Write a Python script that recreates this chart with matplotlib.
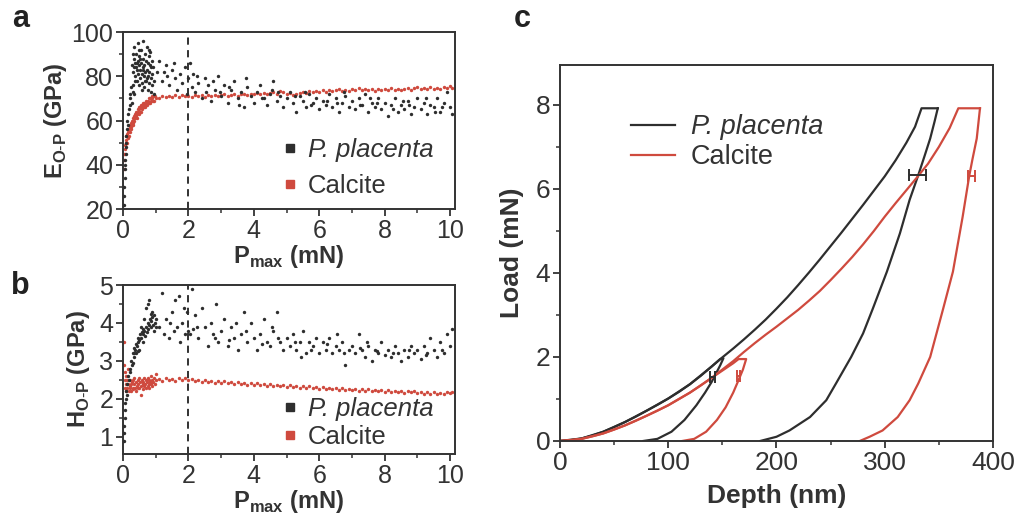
import matplotlib
matplotlib.use("Agg")
import matplotlib.pyplot as plt
from matplotlib.lines import Line2D
from matplotlib.ticker import MultipleLocator

plt.rcParams['font.family'] = ['Liberation Sans', 'DejaVu Sans']
plt.rcParams['mathtext.fontset'] = 'custom'
plt.rcParams['mathtext.rm'] = 'Liberation Sans'
plt.rcParams['mathtext.bf'] = 'Liberation Sans:bold'

BLACK = '#2e2e2e'
RED = '#cf4a3e'

# ---------------- panel a : modulus vs Pmax ----------------
a_pp = [(0.02,22),(0.03,26),(0.04,30),(0.05,34),(0.05,38),(0.06,40),(0.07,42),(0.08,45),(0.08,48),
        (0.1,50),(0.1,53),(0.12,56),(0.13,60),(0.15,58),(0.15,63),(0.17,65),(0.2,67),(0.2,70),(0.22,72),
        (0.25,75),(0.27,68),(0.3,73),(0.32,76),(0.35,72),
        (0.28,85),(0.3,90),(0.32,82),(0.33,88),(0.35,93),(0.36,80),(0.38,86),(0.4,84),(0.4,90),(0.42,78),
        (0.43,83),(0.45,87),(0.45,95),(0.47,81),(0.48,76),(0.5,85),(0.5,89),(0.52,79),(0.53,83),(0.55,92),
        (0.55,86),(0.57,77),(0.58,81),(0.6,84),(0.6,88),(0.62,96),(0.63,80),(0.65,75),(0.65,85),(0.67,82),
        (0.68,90),(0.7,78),(0.7,87),(0.72,83),(0.73,93),(0.75,80),(0.75,86),(0.77,74),(0.78,89),(0.8,82),
        (0.8,77),(0.82,85),(0.83,91),(0.85,79),(0.85,84),(0.87,73),(0.88,87),(0.9,81),(0.9,76),(0.92,84),
        (0.95,78),(0.95,72),(0.38,78),(0.58,74),(0.68,78),(0.48,92),(0.42,86),(0.62,83),(0.72,79),(0.52,88),
        (0.35,84),(0.8,92),
        (1.05,82),(1.1,87),(1.2,78),(1.3,85),(1.35,80),(1.4,76),(1.5,83),(1.6,79),(1.65,74),(1.75,81),
        (1.8,77),(1.9,84),(1.95,72),(2.0,79),(2.05,86),(2.1,75),(2.15,81),(2.2,73),(2.3,77),(2.4,70),
        (2.5,79),(2.55,73),(2.6,76),(2.7,69),(2.8,74),(2.9,80),(3.0,71),(3.1,76),(3.2,68),(3.3,74),
        (3.4,78),(3.5,70),(3.6,73),(3.7,66),(3.8,75),(3.9,71),(4.0,68),(4.1,73),(4.2,76),(4.3,70),
        (4.4,67),(4.5,72),(4.6,78),(4.7,69),(4.8,71),(4.9,66),(5.0,70),(5.1,73),(5.2,68),(5.3,64),
        (5.4,71),(5.5,69),(5.6,66),(5.7,72),(5.8,68),(5.9,70),(6.0,65),(6.1,69),(6.2,67),(6.3,72),
        (6.4,66),(6.5,70),(6.6,64),(6.7,68),(6.8,71),(6.9,66),(7.0,69),(7.1,65),(7.2,70),(7.3,67),
        (7.4,72),(7.5,64),(7.6,68),(7.7,66),(7.8,70),(7.9,65),(8.0,68),(8.1,62),(8.2,67),(8.3,70),
        (8.4,64),(8.5,67),(8.6,65),(8.7,69),(8.8,63),(8.9,66),(9.0,70),(9.1,65),(9.2,68),(9.3,63),
        (9.4,67),(9.5,66),(9.6,70),(9.7,64),(9.8,68),(9.9,73),(10.0,66),(10.05,63),
        (2.25,80),(2.75,78),(3.25,75),(3.75,79),(4.25,70),(4.75,73),(5.25,71),(5.75,67),(6.25,69),
        (6.75,73),(7.25,67),(7.75,68),(8.25,65),(8.75,67),(9.25,70),(9.75,66),(4.55,74),(5.55,73),
        (6.55,68),(7.55,70),(8.55,69),(9.55,64),(3.55,67),(2.95,73),(1.55,86),(1.25,82)]

a_ca = [(0.02,38),(0.03,42),(0.04,45),(0.05,47),(0.06,49),(0.08,50),(0.1,51),(0.1,53),(0.12,54),
        (0.14,52),(0.15,55),(0.17,56),(0.2,55),(0.2,57),(0.22,58),(0.25,57),(0.25,59),(0.28,60),(0.3,58),
        (0.3,61),(0.33,61),(0.35,60),(0.35,62),(0.38,63),(0.4,62),(0.4,64),(0.43,63),(0.45,65),(0.47,64),
        (0.5,65),(0.5,66),(0.53,66),(0.55,64),(0.55,67),(0.58,66),(0.6,68),(0.62,67),(0.65,68),(0.68,67),
        (0.7,69),(0.72,68),(0.75,69),(0.78,70),(0.8,68),(0.82,70),(0.85,69),(0.88,71),(0.9,70),(0.93,71),
        (0.95,69),(1.0,70),(0.07,45),(0.13,50),(0.18,53),(0.23,56),(0.27,58),(0.32,59),(0.37,61),(0.42,61),
        (0.48,63),(0.52,64),(0.57,65),(0.63,66),(0.67,66),(0.73,67),(0.77,68),(0.83,68),(0.87,70),(0.92,69),
        (0.97,71),
        (1.1,70.2),(1.2,71.0),(1.3,70.5),(1.4,71.2),(1.5,70.6),(1.6,71.4),(1.7,70.8),(1.8,71.5),(1.9,70.9),
        (2.0,71.3),(2.1,70.7),(2.2,71.6),(2.3,71.0),(2.4,71.4),(2.5,70.8),(2.6,71.5),(2.7,71.1),(2.8,71.7),
        (2.9,71.0),(3.0,71.4),(3.1,71.9),(3.2,71.2),(3.3,71.6),(3.4,72.0),(3.5,71.3),(3.6,71.8),(3.7,72.1),
        (3.8,71.5),(3.9,72.2),(4.0,71.8),(4.1,72.4),(4.2,71.9),(4.3,72.6),(4.4,72.0),(4.5,72.4),(4.6,72.9),
        (4.7,72.2),(4.8,73.5),(4.9,72.8),(5.0,71.9),(5.1,72.3),(5.2,71.6),(5.3,72.0),(5.4,72.5),(5.5,73.1),
        (5.6,72.6),(5.7,73.3),(5.8,72.8),(5.9,73.5),(6.0,73.0),(6.1,73.6),(6.2,73.1),(6.3,73.8),(6.4,73.2),
        (6.5,73.7),(6.6,74.3),(6.7,73.5),(6.8,74.0),(6.9,73.4),(7.0,74.2),(7.1,73.6),(7.2,74.5),(7.3,73.9),
        (7.4,74.4),(7.5,73.7),(7.6,74.3),(7.7,73.5),(7.8,74.1),(7.9,73.6),(8.0,74.2),(8.1,73.8),(8.2,74.6),
        (8.3,73.9),(8.4,74.3),(8.5,73.6),(8.6,74.1),(8.7,74.7),(8.8,74.0),(8.9,74.5),(9.0,75.2),(9.1,74.3),
        (9.2,74.8),(9.3,74.1),(9.4,75.0),(9.5,74.4),(9.6,74.9),(9.7,74.2),(9.8,75.3),(9.9,74.6),(10.0,75.8),
        (10.05,74.8)]

# ---------------- panel b : hardness vs Pmax ----------------
b_pp = [(0.02,0.9),(0.03,1.1),(0.04,1.3),(0.05,1.5),(0.06,1.7),(0.07,1.9),(0.08,2.0),(0.1,2.2),(0.12,2.4),
        (0.12,2.1),(0.15,2.6),(0.18,2.5),(0.2,2.8),(0.22,2.7),(0.25,3.0),(0.27,2.9),(0.3,3.2),(0.3,2.95),
        (0.33,3.2),(0.35,3.35),(0.38,3.3),(0.4,3.45),(0.42,3.4),(0.45,3.5),(0.47,3.6),(0.5,3.55),(0.52,3.7),
        (0.55,3.6),(0.57,3.75),(0.6,3.7),(0.62,3.85),(0.65,3.8),(0.67,3.65),(0.7,3.9),(0.72,3.75),(0.75,4.0),
        (0.77,3.85),(0.8,3.95),(0.82,4.1),(0.85,3.9),(0.87,4.05),(0.9,4.15),(0.92,3.95),(0.95,4.2),(0.97,4.0),
        (1.0,4.1),(0.75,4.5),(0.8,4.6),(0.7,4.4),(0.9,4.3),(0.6,3.5),(0.65,4.1),(0.85,4.25),(0.5,3.3),
        (0.55,3.9),(0.4,3.2),(0.45,3.25),(0.95,3.8),(1.0,3.9),(0.35,3.1),
        (1.1,3.9),(1.2,4.8),(1.25,3.7),(1.3,4.1),(1.4,3.6),(1.5,4.3),(1.55,3.8),(1.6,4.6),(1.7,4.7),
        (1.75,3.5),(1.8,4.0),(1.9,3.7),(1.95,4.3),(2.0,3.8),(2.05,3.7),(2.1,4.9),(2.15,3.85),(2.2,4.2),
        (2.3,3.6),(2.4,4.4),(2.5,3.9),(2.6,3.4),(2.7,4.0),(2.8,3.6),(2.85,4.5),(2.9,3.5),(3.0,3.8),
        (3.1,4.1),(3.2,3.4),(3.3,3.9),(3.4,3.6),(3.5,3.3),(3.6,3.7),(3.7,4.3),(3.8,3.5),(3.9,4.0),
        (4.0,3.6),(4.1,3.3),(4.2,3.7),(4.3,4.1),(4.4,3.5),(4.5,3.4),(4.6,3.8),(4.7,4.3),(4.8,3.5),
        (4.9,3.3),(5.0,3.6),(5.1,3.4),(5.2,3.7),(5.3,3.3),(5.4,3.5),(5.5,3.8),(5.6,3.2),(5.7,3.5),
        (5.8,3.4),(5.9,3.6),(6.0,3.2),(6.1,3.5),(6.2,3.3),(6.3,3.6),(6.4,3.2),(6.5,3.4),(6.6,3.3),
        (6.7,3.5),(6.8,2.9),(6.9,3.3),(7.0,3.4),(7.1,3.2),(7.2,3.7),(7.3,3.3),(7.4,3.1),(7.5,3.4),
        (7.6,3.0),(7.7,3.3),(7.8,3.2),(7.9,3.5),(8.0,3.15),(8.1,3.3),(8.2,3.1),(8.3,3.4),(8.4,3.2),
        (8.5,3.0),(8.6,3.3),(8.7,3.1),(8.8,3.4),(8.9,3.2),(9.0,3.3),(9.1,3.05),(9.2,3.4),(9.3,3.2),
        (9.4,3.6),(9.5,3.3),(9.6,3.1),(9.7,3.5),(9.8,3.2),(9.9,3.7),(10.0,3.4),(10.05,3.85),
        (2.25,3.9),(2.75,3.7),(3.25,3.55),(3.75,3.8),(4.25,3.45),(4.75,3.6),(5.25,3.5),(5.75,3.3),
        (6.25,3.45),(6.75,3.2),(7.25,3.35),(7.75,3.25),(8.25,3.2),(8.75,3.3),(9.25,3.15),(9.75,3.3),
        (1.45,4.0),(1.65,3.9),(1.85,4.4),(3.45,4.0),(4.55,3.9),(5.45,3.1),(6.55,3.7),(7.45,3.5)]

b_ca = [(0.02,3.5),(0.03,2.9),(0.05,2.7),(0.05,2.5),(0.07,2.3),(0.08,2.6),(0.1,2.4),(0.1,2.2),(0.12,2.5),
        (0.13,2.3),(0.15,2.8),(0.15,2.4),(0.17,2.2),(0.2,2.35),(0.2,2.5),(0.22,2.3),(0.25,2.4),(0.25,2.2),
        (0.27,2.45),(0.3,2.3),(0.3,2.5),(0.32,2.25),(0.35,2.4),(0.35,2.55),(0.38,2.3),(0.4,2.45),(0.4,2.2),
        (0.42,2.35),(0.45,2.5),(0.45,2.3),(0.47,2.4),(0.5,2.3),(0.5,2.55),(0.52,2.45),(0.55,2.35),(0.55,2.1),
        (0.57,2.5),(0.6,2.4),(0.6,2.25),(0.62,2.45),(0.65,2.35),(0.65,2.55),(0.68,2.4),(0.7,2.3),(0.7,2.5),
        (0.72,2.45),(0.75,2.35),(0.75,2.55),(0.78,2.4),(0.8,2.5),(0.8,2.3),(0.82,2.45),(0.85,2.4),(0.85,2.6),
        (0.88,2.45),(0.9,2.5),(0.9,2.35),(0.92,2.45),(0.95,2.55),(0.97,2.4),(1.0,2.5),(1.0,2.65),
        (1.1,2.52),(1.2,2.47),(1.3,2.55),(1.4,2.49),(1.5,2.53),(1.6,2.46),(1.7,2.54),(1.8,2.50),(1.9,2.56),
        (2.0,2.49),(2.1,2.53),(2.2,2.47),(2.3,2.51),(2.4,2.45),(2.5,2.49),(2.6,2.44),(2.7,2.48),(2.8,2.43),
        (2.9,2.47),(3.0,2.42),(3.1,2.46),(3.2,2.41),(3.3,2.45),(3.4,2.40),(3.5,2.44),(3.6,2.39),(3.7,2.43),
        (3.8,2.38),(3.9,2.42),(4.0,2.37),(4.1,2.41),(4.2,2.36),(4.3,2.40),(4.4,2.35),(4.5,2.39),(4.6,2.34),
        (4.7,2.38),(4.8,2.33),(4.9,2.37),(5.0,2.32),(5.1,2.36),(5.2,2.31),(5.3,2.35),(5.4,2.30),(5.5,2.34),
        (5.6,2.29),(5.7,2.33),(5.8,2.28),(5.9,2.32),(6.0,2.27),(6.1,2.31),(6.2,2.26),(6.3,2.30),(6.4,2.25),
        (6.5,2.29),(6.6,2.24),(6.7,2.28),(6.8,2.23),(6.9,2.27),(7.0,2.23),(7.1,2.26),(7.2,2.22),(7.3,2.26),
        (7.4,2.21),(7.5,2.25),(7.6,2.21),(7.7,2.24),(7.8,2.20),(7.9,2.24),(8.0,2.19),(8.1,2.23),(8.2,2.19),
        (8.3,2.22),(8.4,2.18),(8.5,2.22),(8.6,2.16),(8.7,2.21),(8.8,2.17),(8.9,2.20),(9.0,2.15),(9.1,2.19),
        (9.2,2.14),(9.3,2.18),(9.4,2.13),(9.5,2.17),(9.6,2.12),(9.7,2.16),(9.8,2.13),(9.9,2.17),(10.0,2.15),
        (10.05,2.18)]

# ---------------- panel c : load-depth curves ----------------
pp_load_depth = [0, 10, 20, 30, 40, 50, 60, 70, 80, 90, 100, 110, 120, 130, 140, 150, 160, 170, 180, 190, 200,
                 210, 220, 230, 240, 250, 260, 270, 280, 290, 300, 310, 320, 328, 334, 349]
pp_load_force = [0, 0.02, 0.06, 0.13, 0.22, 0.33, 0.45, 0.58, 0.72, 0.86, 1.01, 1.17, 1.35, 1.55, 1.77, 1.99, 2.2,
                 2.42, 2.65, 2.89, 3.15, 3.42, 3.71, 4.01, 4.32, 4.64, 4.96, 5.29, 5.62, 5.96, 6.3, 6.68, 7.1,
                 7.48, 7.92, 7.92]
pp_unload_depth = [349, 346, 342, 337, 331, 323, 314, 302, 289, 280, 269, 255, 246, 231, 212, 200, 185]
pp_unload_force = [7.92, 7.6, 7.2, 6.8, 6.33, 5.74, 4.94, 4.03, 3.15, 2.56, 2.0, 1.37, 0.97, 0.57, 0.25, 0.1, 0]
pp_small_depth = [0, 20, 40, 60, 80, 100, 120, 140, 148, 151, 148, 144, 140, 134, 126, 115, 103, 90, 77]
pp_small_force = [0, 0.06, 0.22, 0.45, 0.72, 1.01, 1.35, 1.77, 1.95, 1.97, 1.8, 1.6, 1.4, 1.15, 0.85, 0.5, 0.22, 0.05, 0]

ca_load_depth = [0, 10, 20, 30, 40, 50, 60, 70, 80, 90, 100, 110, 120, 130, 140, 150, 160, 170, 180, 190, 200,
                 210, 220, 230, 240, 250, 260, 270, 280, 290, 300, 310, 320, 330, 340, 350, 360, 368, 388]
ca_load_force = [0, 0.015, 0.05, 0.11, 0.18, 0.27, 0.37, 0.48, 0.6, 0.72, 0.85, 1.0, 1.15, 1.32, 1.5, 1.7, 1.9,
                 2.12, 2.33, 2.53, 2.72, 2.92, 3.12, 3.34, 3.57, 3.83, 4.1, 4.38, 4.68, 5.0, 5.34, 5.66, 5.97,
                 6.28, 6.6, 7.0, 7.45, 7.92, 7.92]
ca_unload_depth = [388, 385, 381, 378, 372, 363, 354, 342, 331, 323, 312, 298, 286, 277]
ca_unload_force = [7.92, 7.2, 6.7, 6.3, 5.34, 4.03, 3.15, 2.0, 1.37, 0.97, 0.57, 0.25, 0.1, 0]
ca_small_depth = [0, 20, 40, 60, 80, 100, 120, 140, 160, 165, 172, 169, 165, 160, 153, 145, 135, 124, 113]
ca_small_force = [0, 0.05, 0.18, 0.37, 0.6, 0.85, 1.15, 1.5, 1.85, 1.95, 1.95, 1.7, 1.45, 1.15, 0.8, 0.5, 0.22, 0.05, 0]

# error bars: (depth, load, depth error)
pp_err = [(330, 6.33, 8), (141, 1.53, 2.5)]
ca_err = [(380, 6.3, 3), (165, 1.55, 1.2)]

fig = plt.figure(figsize=(10.15, 5.29), dpi=100)
ax_a = fig.add_axes([0.1212, 0.6049, 0.3271, 0.3346])
ax_b = fig.add_axes([0.1212, 0.1418, 0.3271, 0.3194])
ax_c = fig.add_axes([0.5517, 0.1664, 0.4266, 0.7107])


def style(ax, size):
    for s in ax.spines.values():
        s.set_linewidth(1.4)
        s.set_color('#333333')
    ax.tick_params(which='major', direction='out', length=5, width=1.3, labelsize=size, colors='#333333',
                   pad=2, labelcolor='#333333')
    ax.tick_params(which='minor', direction='out', length=3, width=1.1, colors='#333333')


for ax, pp, ca in [(ax_a, a_pp, a_ca), (ax_b, b_pp, b_ca)]:
    ax.scatter([p[0] for p in pp], [p[1] for p in pp], s=6, color=BLACK, lw=0, zorder=3)
    ax.scatter([p[0] for p in ca], [p[1] for p in ca], s=6, color=RED, lw=0, zorder=2)
    ax.axvline(2, color='#222222', ls=(0, (4, 3)), lw=1.3)
    ax.set_xlim(0, 10.15)
    ax.xaxis.set_major_locator(MultipleLocator(2))
    ax.xaxis.set_minor_locator(MultipleLocator(1))
    ax.set_xlabel(r'P$_{\mathbf{max}}$ (mN)', fontsize=17, fontweight='bold', labelpad=0, color='#333333')
    style(ax, 18)

ax_a.set_ylim(20, 100)
ax_a.yaxis.set_major_locator(MultipleLocator(20))
ax_a.yaxis.set_minor_locator(MultipleLocator(10))
ax_a.set_ylabel(r'E$_{\mathbf{O\text{-}P}}$ (GPa)', fontsize=17, fontweight='bold', labelpad=2, color='#333333')

ax_b.set_ylim(0.55, 5)
ax_b.yaxis.set_major_locator(MultipleLocator(1))
ax_b.yaxis.set_minor_locator(MultipleLocator(0.5))
ax_b.set_ylabel(r'H$_{\mathbf{O\text{-}P}}$ (GPa)', fontsize=17, fontweight='bold', labelpad=5, color='#333333')

handles = [Line2D([], [], ls='none', marker='s', ms=6, color=BLACK),
           Line2D([], [], ls='none', marker='s', ms=6, color=RED)]
labels = ['P. placenta', 'Calcite']
for ax, sp, anchor in [(ax_a, 0.5, (0.48, 0.06)), (ax_b, 0.15, (0.48, 0.03))]:
    leg = ax.legend(handles, labels, loc='lower left', bbox_to_anchor=anchor, frameon=False, fontsize=18.5,
                    handlelength=0.6, handletextpad=0.4, labelspacing=sp, borderpad=0, borderaxespad=0)
    leg.get_texts()[0].set_fontstyle('italic')
    for t in leg.get_texts():
        t.set_color('#333333')

# panel c
ax_c.plot(pp_load_depth, pp_load_force, color=BLACK, lw=1.6, label='P. placenta')
ax_c.plot(pp_unload_depth, pp_unload_force, color=BLACK, lw=1.6)
ax_c.plot(pp_small_depth, pp_small_force, color=BLACK, lw=1.6)
ax_c.plot(ca_load_depth, ca_load_force, color=RED, lw=1.6, label='Calcite')
ax_c.plot(ca_unload_depth, ca_unload_force, color=RED, lw=1.6)
ax_c.plot(ca_small_depth, ca_small_force, color=RED, lw=1.6)
for x, y, e in pp_err:
    ax_c.errorbar(x, y, xerr=e, color=BLACK, capsize=4, lw=1.4, capthick=1.4)
for x, y, e in ca_err:
    ax_c.errorbar(x, y, xerr=e, color=RED, capsize=4, lw=1.4, capthick=1.4)
ax_c.set_xlim(0, 400)
ax_c.set_ylim(0, 8.95)
ax_c.xaxis.set_major_locator(MultipleLocator(100))
ax_c.xaxis.set_minor_locator(MultipleLocator(50))
ax_c.yaxis.set_major_locator(MultipleLocator(2))
ax_c.yaxis.set_minor_locator(MultipleLocator(1))
style(ax_c, 19)
ax_c.set_xlabel('Depth (nm)', fontsize=19, fontweight='bold', labelpad=7, color='#333333')
ax_c.set_ylabel('Load (mN)', fontsize=19, fontweight='bold', labelpad=8, color='#333333')
leg = ax_c.legend(loc='lower left', bbox_to_anchor=(0.165, 0.72), frameon=False, fontsize=19.5,
                  handlelength=1.6, handletextpad=0.6, labelspacing=0.15, borderpad=0, borderaxespad=0)
leg.get_texts()[0].set_fontstyle('italic')
for t in leg.get_texts():
    t.set_color('#333333')

fig.text(0.020, 0.965, 'a', fontsize=22, fontweight='bold', ha='center', va='center', color='#222222')
fig.text(0.020, 0.460, 'b', fontsize=22, fontweight='bold', ha='center', va='center', color='#222222')
fig.text(0.515, 0.965, 'c', fontsize=22, fontweight='bold', ha='center', va='center', color='#222222')

fig.savefig('out.png', dpi=100)
